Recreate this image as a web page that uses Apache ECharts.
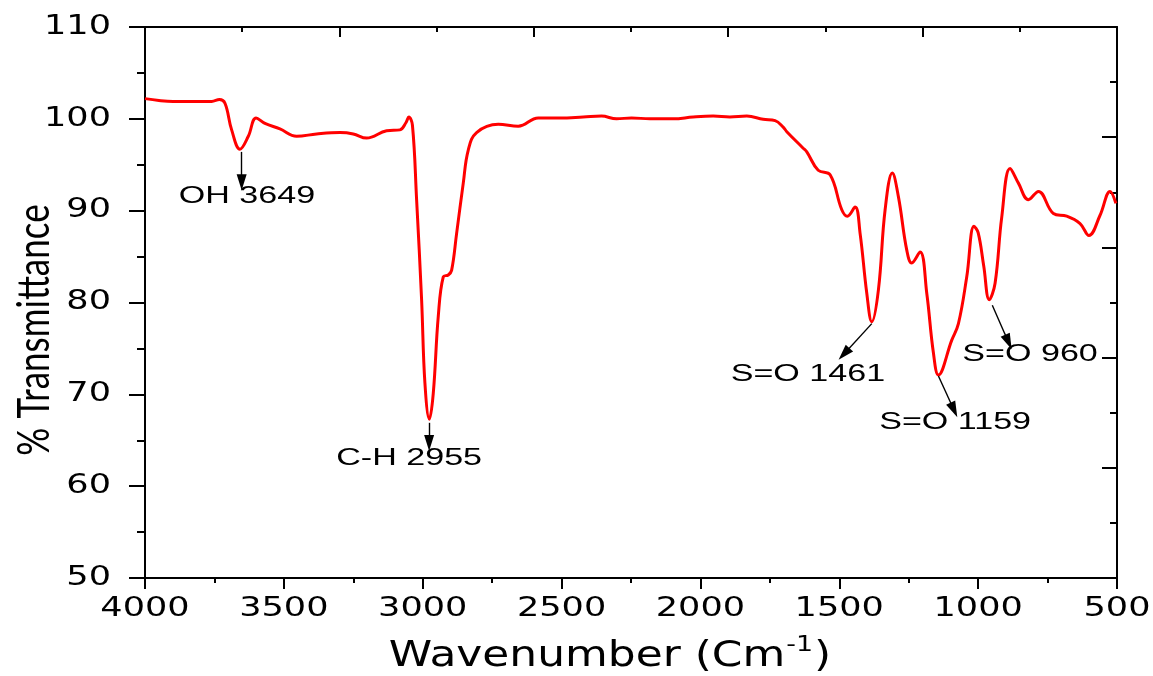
<!DOCTYPE html>
<html>
<head>
<meta charset="utf-8">
<script src="https://cdn.jsdelivr.net/npm/echarts@6/dist/echarts.min.js"></script>
<style>
  html, body { margin: 0; padding: 0; background: #fff; }
  #chart-ftir { width: 1153px; height: 676px; }
</style>
</head>
<body>
<div id="chart-ftir"></div>
<script>
// spectrum (cm-1, % transmittance)
var wavenumber = [4000, 3950, 3899, 3830, 3760, 3732, 3712, 3688, 3658, 3628, 3600, 3568, 3514, 3454, 3382, 3298, 3250, 3202, 3130, 3082, 3060, 3050, 3037, 3022, 3004, 2992, 2976, 2962, 2944, 2926, 2908, 2896, 2878, 2854, 2836, 2806, 2728, 2656, 2584, 2506, 2422, 2356, 2302, 2248, 2182, 2098, 2026, 1954, 1894, 1833, 1774, 1731, 1702, 1689, 1630, 1617, 1576, 1533, 1491, 1471, 1443, 1425, 1401, 1383, 1359, 1335, 1309, 1287, 1257, 1239, 1209, 1185, 1161, 1143, 1095, 1071, 1041, 1015, 1000, 980, 960, 939, 915, 885, 855, 819, 783, 729, 681, 633, 601, 561, 525, 504];
var transmittance = [102.2, 102.0, 101.9, 101.9, 101.9, 102.1, 101.7, 98.8, 96.7, 98.1, 100.1, 99.5, 98.9, 98.1, 98.35, 98.5, 98.35, 97.9, 98.7, 98.8, 99.6, 100.2, 99.3, 91.2, 80.3, 71.2, 67.3, 70.1, 78.5, 82.8, 83.0, 83.5, 87.5, 93.0, 96.6, 98.5, 99.4, 99.2, 100.1, 100.1, 100.2, 100.3, 100.0, 100.1, 100.0, 100.0, 100.2, 100.3, 100.2, 100.3, 99.95, 99.8, 99.1, 98.6, 96.8, 96.4, 94.4, 93.9, 90.1, 89.4, 90.4, 87.5, 81.0, 77.9, 81.4, 90.1, 94.1, 91.5, 85.7, 84.3, 85.5, 81.0, 74.5, 72.1, 75.9, 77.7, 82.8, 88.3, 87.6, 84.0, 80.3, 82.1, 89.3, 94.6, 93.0, 91.2, 92.1, 89.7, 89.4, 88.6, 87.3, 89.5, 92.1, 90.8];

var xTicks = [4000, 3500, 3000, 2500, 2000, 1500, 1000, 500];
var yTicks = [50, 60, 70, 80, 90, 100, 110];

// peak annotations: text, arrow tail, arrow head, text centre (data coords)
var peakNames = ["OH 3649", "C-H 2955", "S=O 1461", "S=O 1159", "S=O 960"];
var arrowFrom = [[3652, 96.4], [2977, 66.9], [1383, 77.7], [1143, 72.0], [949, 79.7]];
var arrowTo = [[3652, 93.1], [2977, 64.7], [1483, 74.4], [1087, 68.3], [891, 75.7]];
var labelAt = [[3633, 91.6], [3049, 63.0], [1613, 72.2], [1083, 66.9], [813, 74.4]];

var spectrum = wavenumber.map(function (w, i) { return [w, transmittance[i]]; });
var arrows = arrowFrom.map(function (p, i) {
  return [{ coord: p }, { coord: arrowTo[i] }];
});

var black = "#000";
var tickStyle = { color: black, width: 2 };

var myChart = echarts.init(document.getElementById("chart-ftir"));

var option = {
  animation: false,
  backgroundColor: "#fff",
  grid: { left: 145, right: 36, top: 27, bottom: 98 },
  xAxis: [
    {
      type: "value", position: "bottom", min: 500, max: 4000, interval: 500, inverse: true,
      axisLine: { onZero: false, lineStyle: tickStyle },
      axisTick: { inside: false, length: 11, lineStyle: tickStyle },
      minorTick: { show: true, splitNumber: 2, length: 5, lineStyle: tickStyle },
      axisLabel: { show: false },
      splitLine: { show: false }
    },
    {
      // mirror axis along the top of the frame
      type: "value", position: "top", min: 0, max: 10, interval: 2,
      axisLine: { onZero: false, lineStyle: tickStyle },
      axisTick: { inside: true, length: 10, lineStyle: tickStyle },
      minorTick: { show: true, splitNumber: 2, length: 5, lineStyle: tickStyle },
      axisLabel: { show: false },
      splitLine: { show: false }
    }
  ],
  yAxis: [
    {
      type: "value", position: "left", min: 50, max: 110, interval: 10,
      axisLine: { show: true, onZero: false, lineStyle: tickStyle },
      axisTick: { show: true, inside: false, length: 16, lineStyle: tickStyle },
      minorTick: { show: true, splitNumber: 2, length: 8, lineStyle: tickStyle },
      axisLabel: { show: false },
      splitLine: { show: false }
    },
    {
      type: "value", position: "right", min: 0, max: 10, interval: 2,
      axisLine: { show: true, onZero: false, lineStyle: tickStyle },
      axisTick: { show: true, inside: true, length: 15, lineStyle: tickStyle },
      minorTick: { show: true, splitNumber: 2, length: 7, lineStyle: tickStyle },
      axisLabel: { show: false },
      splitLine: { show: false }
    }
  ],
  series: [
    {
      name: "FTIR",
      type: "line",
      xAxisIndex: 0,
      yAxisIndex: 0,
      data: spectrum,
      smooth: 0.4,
      showSymbol: false,
      lineStyle: { color: "#ff0000", width: 3 },
      markLine: {
        silent: true,
        symbol: ["none", "triangle"],
        symbolSize: [10, 16],
        lineStyle: { color: black, width: 1.4, type: "solid" },
        label: { show: false },
        data: arrows
      }
    }
  ]
};

myChart.setOption(option);

// text is drawn as graphic elements so it can be widened like the original
function px(p) { return myChart.convertToPixel({ seriesIndex: 0 }, p); }

var ctx = document.createElement("canvas").getContext("2d");
function textWidth(str, size, family) {
  ctx.font = size + "px " + family;
  return ctx.measureText(str).width;
}

var tickFont = { fontFamily: "DejaVu Sans", fontSize: 26, fill: black };
var texts = [];

xTicks.forEach(function (v) {
  texts.push({
    type: "text", x: myChart.convertToPixel({ xAxisIndex: 0 }, v), y: 609, scaleX: 1.35,
    style: Object.assign({ text: String(v), align: "center", verticalAlign: "middle" }, tickFont)
  });
});
yTicks.forEach(function (v) {
  texts.push({
    type: "text", x: 111, y: myChart.convertToPixel({ yAxisIndex: 0 }, v), scaleX: 1.35,
    style: Object.assign({ text: String(v), align: "right", verticalAlign: "middle" }, tickFont)
  });
});

peakNames.forEach(function (name, i) {
  var p = px(labelAt[i]);
  texts.push({
    type: "text", x: p[0], y: p[1], scaleX: 1.42,
    style: { text: name, align: "center", verticalAlign: "middle", fontFamily: "Liberation Sans", fontSize: 24, fill: black }
  });
});

// x title with a raised "-1"
var titleFont = "DejaVu Sans", titleSize = 36, supSize = 22, titleScale = 1.22;
var partA = "Wavenumber (Cm", partSup = "-1", partB = ")";
var wA = textWidth(partA, titleSize, titleFont) * titleScale;
var wS = textWidth(partSup, supSize, titleFont) * titleScale;
var wB = textWidth(partB, titleSize, titleFont) * titleScale;
var tx = 609 - (wA + wS + wB) / 2, ty = 657;
[[partA, titleSize, 0, 0], [partSup, supSize, wA + 1, -12], [partB, titleSize, wA + wS + 2, 0]].forEach(function (t) {
  texts.push({
    type: "text", x: tx + t[2], y: ty + t[3], scaleX: titleScale,
    style: { text: t[0], align: "left", verticalAlign: "middle", fontFamily: titleFont, fontSize: t[1], fill: black }
  });
});

texts.push({
  type: "text", x: 35, y: 330, rotation: Math.PI / 2, scaleY: 1.25,
  style: { text: "% Transmittance", align: "center", verticalAlign: "middle", fontFamily: "Lato", fontSize: 35, fill: black }
});

myChart.setOption({ graphic: texts });
</script>
</body>
</html>
